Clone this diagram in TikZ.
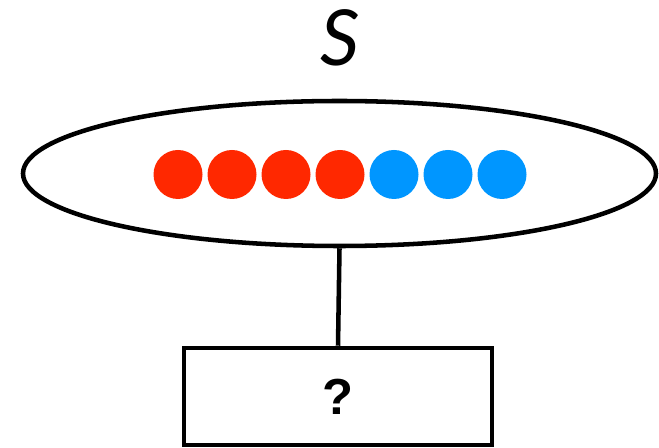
\documentclass[tikz,border=0pt]{standalone}
\usepackage{fontspec}
\setmainfont{Liberation Sans}
\newfontfamily\setfont{Lato}
\usetikzlibrary{shapes.geometric}
\definecolor{dotred}{RGB}{255,40,0}
\definecolor{dotblue}{RGB}{0,150,255}
\tikzset{
  set/.style={draw,ellipse,line width=3.4pt,minimum width=474.75pt,minimum height=108.75pt,inner sep=0pt},
  dot/.style={circle,minimum size=36.75pt,inner sep=0pt},
  query/.style={draw,rectangle,line width=3.4pt,minimum width=231pt,minimum height=72.75pt,inner sep=0pt}
}

\begin{document}
\begin{tikzpicture}[x=0.75pt,y=-0.75pt]
  \useasboundingbox (0,0) rectangle (659,448);
  \node (title) at (340,38) {\setfont\fontsize{58}{58}\selectfont\itshape S};
  \node[set] (set) at (339.5,173.5) {};
  \foreach \i/\tone in {1/dotred,2/dotred,3/dotred,4/dotred,5/dotblue,6/dotblue,7/dotblue}
    \node[dot,fill=\tone] (d\i) at ({178+54*(\i-1)},174.5) {};
  \node[query] (query) at (338,396.5) {\fontsize{38}{38}\selectfont\bfseries ?};
  \draw[line width=3.4pt] (set.south) -- (query.north);
\end{tikzpicture}
\end{document}
